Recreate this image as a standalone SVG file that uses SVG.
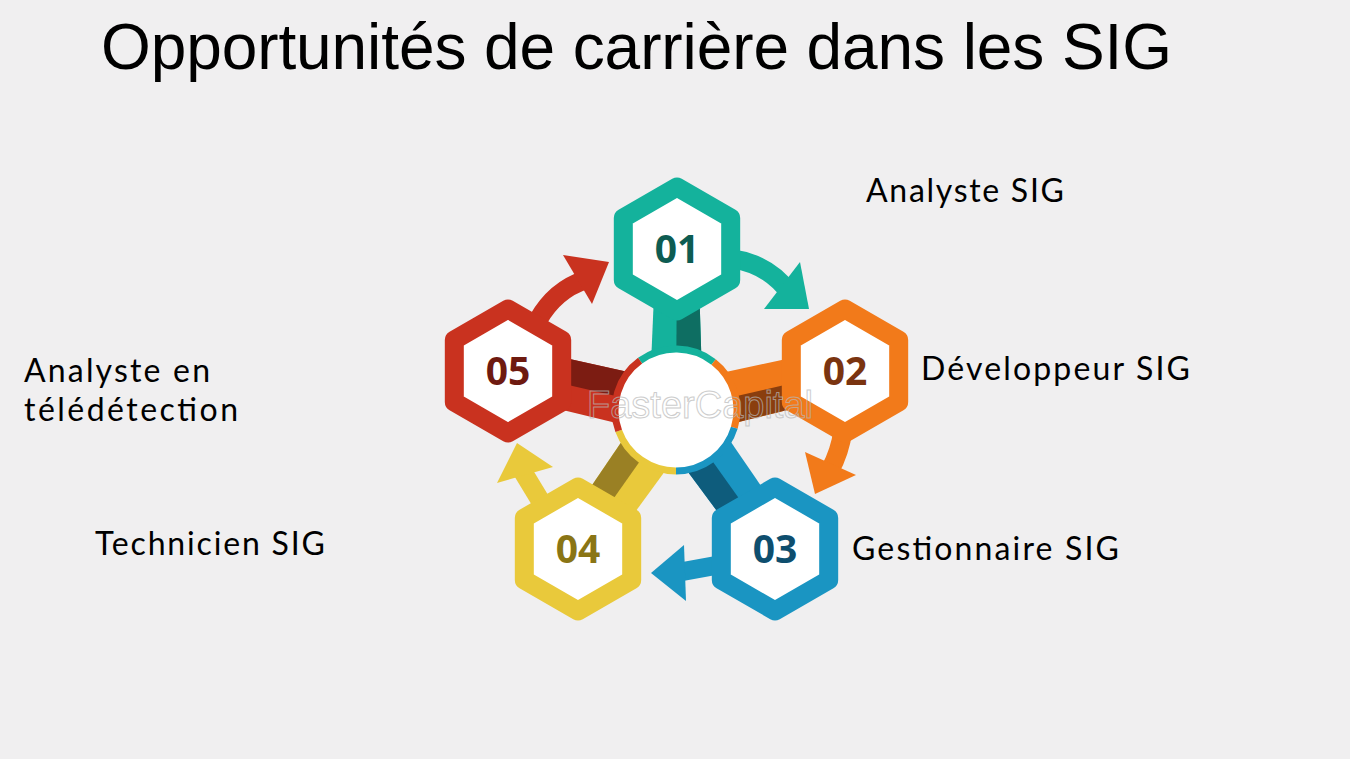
<svg xmlns="http://www.w3.org/2000/svg" xmlns:xlink="http://www.w3.org/1999/xlink" width="1350" height="759" viewBox="0 0 1350 759">
  <style>
    .title { font-family: "Liberation Sans", Arial, sans-serif; font-size: 64px; fill: #000; }
    .label { font-family: Lato, "Open Sans", sans-serif; font-size: 32px; fill: #000; }
    .num { font-family: "Open Sans", "Noto Sans", sans-serif; font-size: 39px; font-weight: 700; text-anchor: middle; }
    .hex { fill: #ffffff; stroke-width: 19; stroke-linejoin: round; }
    .ring { fill: none; stroke-width: 7; }
    .shaft { fill: none; stroke-width: 19; }
    .wm { font-family: "Liberation Sans", Arial, sans-serif; font-size: 38px; fill: none; stroke: #b8b8b8; stroke-width: 1; opacity: 0.7; }
  </style>
  <defs>
    <polygon id="hexshape" points="0,-62 53.69,-31 53.69,31 0,62 -53.69,31 -53.69,-31"/>
  </defs>
  <rect x="0" y="0" width="1350" height="759" fill="#f0eff0"/>

  <text class="title" x="101" y="69" textLength="1071">Opportunités de carrière dans les SIG</text>

  <!-- stems -->
  <g id="stems">
    <polygon points="703,410 698,249 656,249 649,410" fill="#14b29c"/>
    <polygon points="676,410 677,249 698,249 703,410" fill="#0e6e62"/>
    <polygon points="682,436 850.4,394.4 839.6,347.6 670,384" fill="#f27a1a"/>
    <polygon points="676,410 845,371 850.4,394.4 682,436" fill="#8a3e0e"/>
    <polygon points="654,426 755.4,563 794.6,535 698,394" fill="#1a95c2"/>
    <polygon points="676,410 775,549 755.4,563 654,426" fill="#0e5c7c"/>
    <polygon points="654,394 558.4,534.6 597.6,563.4 698,426" fill="#e9c93b"/>
    <polygon points="676,410 578,549 558.4,534.6 654,394" fill="#9a8024"/>
    <polygon points="682,384 513.6,346.6 502.4,395.4 670,436" fill="#c9321f"/>
    <polygon points="676,410 508,371 513.6,346.6 682,384" fill="#7c1c12"/>
  </g>

  <!-- center circle -->
  <g id="center">
    <circle cx="676" cy="410" r="61" fill="#ffffff"/>
    <path class="ring" stroke="#14b29c" d="M640.1,360.7 A61,61 0 0 1 713.6,361.9"/>
    <path class="ring" stroke="#f27a1a" d="M713.6,361.9 A61,61 0 0 1 734.3,427.8"/>
    <path class="ring" stroke="#1a95c2" d="M734.3,427.8 A61,61 0 0 1 676,471"/>
    <path class="ring" stroke="#e9c93b" d="M676,471 A61,61 0 0 1 618.7,430.9"/>
    <path class="ring" stroke="#c9321f" d="M618.7,430.9 A61,61 0 0 1 640.1,360.7"/>
  </g>

  <!-- connectors (arrows) -->
  <g id="connectors">
    <path class="shaft" stroke="#14b29c" d="M733,259 Q768,264 789,292"/>
    <polygon points="800,262 809,309 764,309" fill="#14b29c"/>
    <path class="shaft" stroke="#f27a1a" stroke-width="18" d="M843,430 Q840,452 830,470"/>
    <polygon points="805,452 815,494 856,475" fill="#f27a1a"/>
    <path class="shaft" stroke="#1a95c2" d="M724,564 Q702,568 680,572"/>
    <polygon points="684,545 651,573 686,601" fill="#1a95c2"/>
    <path class="shaft" stroke="#e9c93b" stroke-width="18" d="M543,505 L523,472"/>
    <polygon points="517,443 497,483 553,467" fill="#e9c93b"/>
    <path class="shaft" stroke="#c9321f" d="M538,320 Q555,290 585,280"/>
    <polygon points="563,255 609,262 592,304" fill="#c9321f"/>
  </g>

  <g id="node01">
    <use xlink:href="#hexshape" x="677" y="249" class="hex" stroke="#14b29c"/>
    <text class="num" x="677" y="263" fill="#0d5c52">01</text>
  </g>
  <g id="node02">
    <use xlink:href="#hexshape" x="845" y="371" class="hex" stroke="#f27a1a"/>
    <text class="num" x="845" y="385" fill="#7a3410">02</text>
  </g>
  <g id="node03">
    <use xlink:href="#hexshape" x="775" y="549" class="hex" stroke="#1a95c2"/>
    <text class="num" x="775" y="563" fill="#0e4e6e">03</text>
  </g>
  <g id="node04">
    <use xlink:href="#hexshape" x="578" y="549" class="hex" stroke="#e9c93b"/>
    <text class="num" x="578" y="563" fill="#8a7515">04</text>
  </g>
  <g id="node05">
    <use xlink:href="#hexshape" x="508" y="371" class="hex" stroke="#c9321f"/>
    <text class="num" x="508" y="385" fill="#6e1a10">05</text>
  </g>

  <g id="labels">
    <text class="label" x="866" y="202" textLength="198">Analyste SIG</text>
    <text class="label" x="921" y="380" textLength="269">Développeur SIG</text>
    <text class="label" x="852" y="560" textLength="267">Gestionnaire SIG</text>
    <text class="label" x="24" y="382" textLength="186">Analyste en</text>
    <text class="label" x="24" y="421" textLength="214">télédétection</text>
    <text class="label" x="95" y="555" textLength="230">Technicien SIG</text>
  </g>

  <text class="wm" x="587" y="418" textLength="226">FasterCapital</text>
</svg>
